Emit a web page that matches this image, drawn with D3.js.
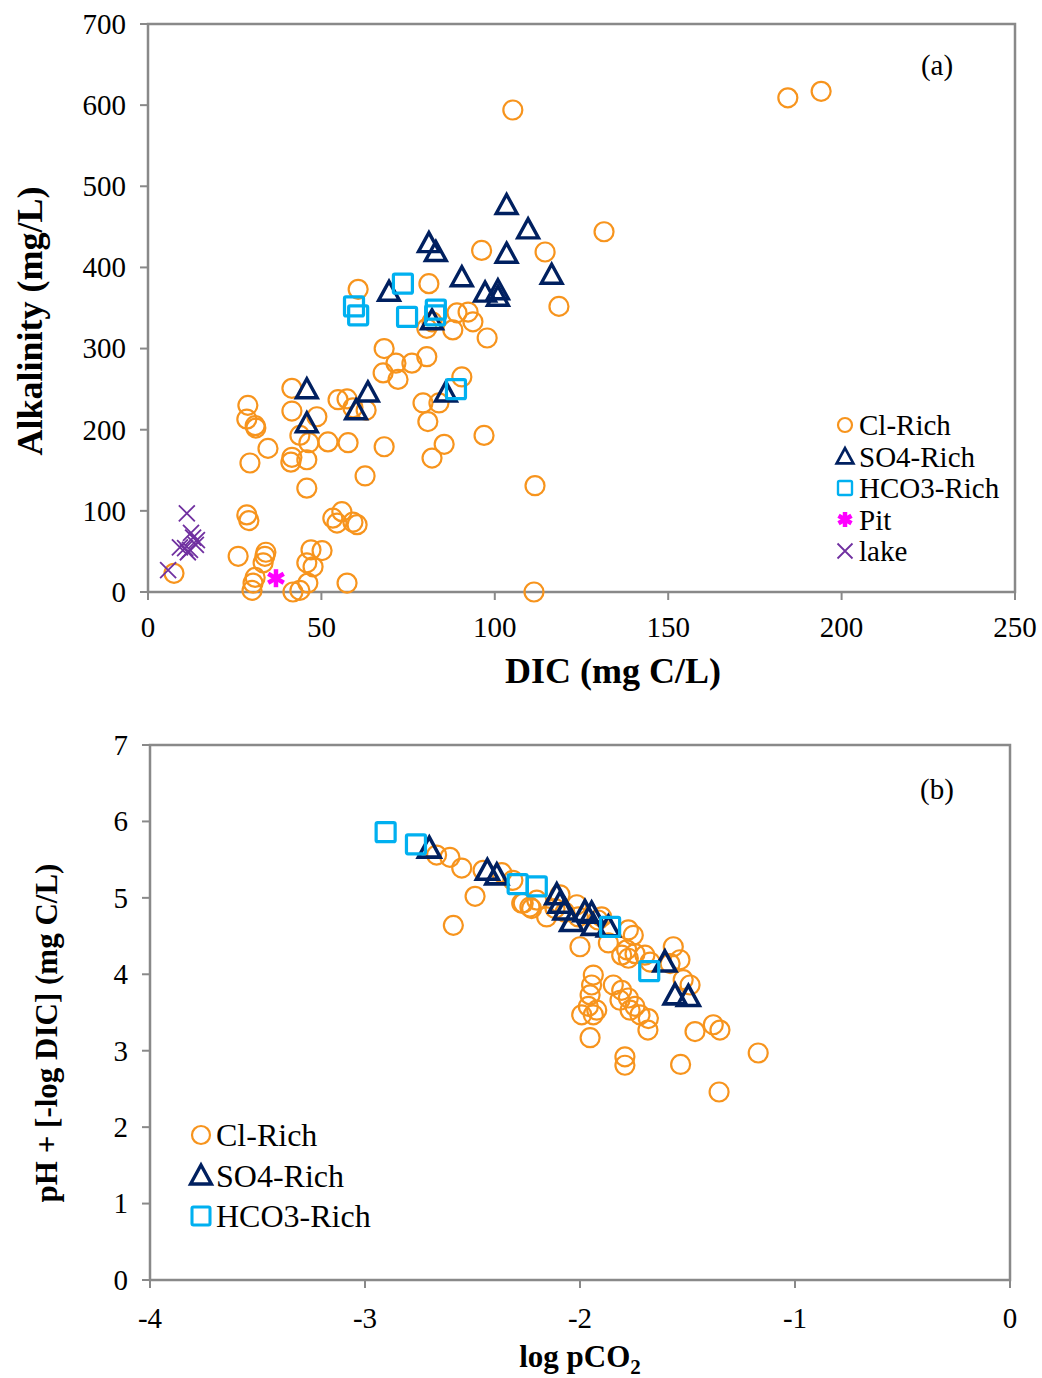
<!DOCTYPE html>
<html>
<head>
<meta charset="utf-8">
<script src="https://cdn.jsdelivr.net/npm/d3@7"></script>
<style>
  body{margin:0;background:#fff;}
</style>
</head>
<body>
<svg id="chart" width="1042" height="1378"></svg>
<script>
// ---- panel (a) data : DIC (mg C/L) vs Alkalinity (mg/L)
var clDicA=[96.2,60.6,81.0,80.4,87.9,89.1,92.3,93.7,97.8,68.1,71.5,76.1,80.4,67.8,72.1,90.5,41.5,41.5,48.7,54.8,57.4,59.1,62.9,79.3,83.9,80.7,28.8,28.5,30.9,31.1,34.6,43.8,46.4,51.9,57.7,68.1,85.4,81.9,29.4,41.5,41.2,45.8,62.6,45.8,28.5,29.1,53.3,55.9,54.5,59.1,60.3,26.0,34.0,33.7,33.2,30.9,30.3,30.0,47.0,50.2,45.8,47.6,46.1,41.8,43.8,57.4,7.5,105.2,184.5,194.1,111.6,111.3,96.9,114.5,131.5,118.5,81.9];
var clAlkA=[421,373,380,325,323,344,345,333,313,300,282,282,290,270,262,265,251,223,216,237,238,227,224,233,233,210,230,213,205,202,177,193,184,185,184,179,182,165,159,166,160,163,143,128,95,88,91,99,85,86,83,44,49,44,36,18,11,2,52,51,36,31,11,0,2,11,23,594,609,617,131,0,193,419,444,352,333];
var so4DicA=[103.4,109.6,103.4,81.0,83.0,90.5,116.4,97.2,100.9,100.9,69.5,81.9,45.8,63.4,60.0,45.8,85.9];
var so4AlkA=[477,447,417,430,419,388,391,369,372,364,370,335,250,246,224,208,246];
var hco3DicA=[73.5,59.4,60.6,74.7,83.0,82.8,88.8];
var hco3AlkA=[380,352,341,339,348,341,250];
var pitDic=[36.9];
var pitAlk=[17];
var lakeDic=[11.2,12.4,13.0,14.1,9.2,10.7,12.1,13.8,11.5,5.8];
var lakeAlk=[97,73,67,64,55,54,52,58,49,27];

// ---- panel (b) data : log pCO2 vs pH + [-log DIC]
var clPco2B=[-2.667,-2.605,-2.550,-2.451,-2.364,-2.312,-2.488,-2.589,-2.271,-2.233,-2.201,-2.264,-2.225,-2.155,-2.116,-2.015,-2.008,-2.000,-1.899,-1.868,-1.783,-1.752,-1.775,-1.806,-1.775,-1.744,-1.698,-1.674,-1.566,-1.581,-1.535,-1.520,-1.488,-1.938,-1.946,-1.953,-1.961,-1.992,-1.922,-1.938,-1.845,-1.806,-1.775,-1.767,-1.744,-1.721,-1.682,-1.684,-1.953,-1.791,-1.791,-1.532,-1.465,-1.380,-1.349,-1.171,-1.353,-1.814,-2.070,-1.916,-2.093];
var clPhB=[5.56,5.53,5.39,5.36,5.33,5.23,5.02,4.64,4.93,4.88,4.97,4.93,4.86,4.75,4.86,4.91,4.75,4.36,4.75,4.41,4.32,4.51,4.58,4.25,4.21,4.27,4.25,4.16,4.36,4.14,4.19,3.93,3.86,3.99,3.86,3.73,3.58,3.47,3.53,3.47,3.86,3.79,3.69,3.53,3.58,3.47,3.42,3.27,3.17,2.92,2.81,2.82,3.25,3.34,3.27,2.97,2.46,3.66,4.81,4.71,5.04];
var so4Pco2B=[-2.701,-2.431,-2.387,-2.108,-2.093,-2.070,-2.039,-1.977,-1.946,-1.938,-1.868,-1.605,-1.558,-1.496];
var so4PhB=[5.65,5.36,5.30,5.04,4.93,4.84,4.69,4.82,4.80,4.64,4.62,4.16,3.73,3.71];
var hco3Pco2B=[-2.904,-2.763,-2.290,-2.201,-1.860,-1.678];
var hco3PhB=[5.86,5.70,5.18,5.15,4.62,4.04];

// ticks
var dicTicks=[0,50,100,150,200,250];
var alkTicks=[0,100,200,300,400,500,600,700];
var pco2Ticks=[-4,-3,-2,-1,0];
var phTicks=[0,1,2,3,4,5,6,7];

var C_ORANGE="#F7941D", C_NAVY="#002060", C_CYAN="#00B0F0", C_PINK="#FF00FF", C_PURPLE="#7030A0", C_AXIS="#898989";
var FONT="Liberation Serif";

var svg=d3.select("#chart");

function zip(xs,ys){
    var out=[];
    for(var i=0;i<xs.length;i++){ out.push([xs[i],ys[i]]); }
    return out;
}

function label(x,y,txt,fs){
    return svg.append("text").attr("x",x).attr("y",y).attr("font-family",FONT)
        .attr("font-size",fs).attr("fill","#000").text(txt);
}

// marker painters: g is a group translated to the point, s = size
function drawCircle(g,s,color){
    g.append("circle").attr("r",s).attr("fill","none").attr("stroke",color).attr("stroke-width",2.2);
}
function drawTriangle(g,s,color){
    var h=s*0.95;
    g.append("path")
        .attr("d","M0,"+(-h*0.55)+"L"+(s*0.52)+","+(h*0.45)+"L"+(-s*0.52)+","+(h*0.45)+"Z")
        .attr("fill","none").attr("stroke",color).attr("stroke-width",s*0.17).attr("stroke-linejoin","miter");
}
function drawSquare(g,s,color){
    g.append("rect").attr("x",-s/2).attr("y",-s/2).attr("width",s).attr("height",s).attr("rx",1.5)
        .attr("fill","none").attr("stroke",color).attr("stroke-width",s*0.17);
}
function drawStar(g,s,color){
    var r=s/2;
    [0,60,120].forEach(function(a){
        g.append("line").attr("x1",0).attr("y1",-r).attr("x2",0).attr("y2",r)
            .attr("transform","rotate("+a+")").attr("stroke",color).attr("stroke-width",4.5);
    });
}
function drawCross(g,s,color){
    var r=s/2;
    g.append("path").attr("d","M"+(-r)+","+(-r)+"L"+r+","+r+"M"+(-r)+","+r+"L"+r+","+(-r))
        .attr("stroke",color).attr("stroke-width",1.8);
}

function plotSeries(layer,pts,x,y,painter,s,color){
    layer.selectAll(null).data(pts).enter().append("g")
        .attr("transform",function(d){return "translate("+x(d[0])+","+y(d[1])+")";})
        .each(function(){ painter(d3.select(this),s,color); });
}

function drawFrame(x,y,xTicks,yTicks,fs,xLabY){
    var x0=x.range()[0], x1=x.range()[1], y0=y.range()[0], y1=y.range()[1];
    var g=svg.append("g");
    g.append("rect").attr("x",x0).attr("y",y1).attr("width",x1-x0).attr("height",y0-y1)
        .attr("fill","none").attr("stroke",C_AXIS).attr("stroke-width",2.5);
    g.selectAll(".yt").data(yTicks).enter().append("line")
        .attr("x1",x0-8).attr("x2",x0).attr("y1",function(d){return y(d);}).attr("y2",function(d){return y(d);})
        .attr("stroke",C_AXIS).attr("stroke-width",2);
    g.selectAll(".xt").data(xTicks).enter().append("line")
        .attr("y1",y0).attr("y2",y0+8).attr("x1",function(d){return x(d);}).attr("x2",function(d){return x(d);})
        .attr("stroke",C_AXIS).attr("stroke-width",2);
    yTicks.forEach(function(d){
        label(x0-22,y(d),d,fs).attr("dy","0.34em").attr("text-anchor","end");
    });
    xTicks.forEach(function(d){
        label(x(d),y0+xLabY,d,fs).attr("text-anchor","middle");
    });
}

function drawLegend(x0,y0,gap,items,fs){
    var g=svg.append("g");
    items.forEach(function(it,i){
        var m=g.append("g").attr("transform","translate("+x0+","+(y0+i*gap)+")");
        it.painter(m,it.s,it.color);
        label(x0+it.dx,y0+i*gap,it.label,fs).attr("dy","0.35em");
    });
}

// ================= panel (a)
var xA=d3.scaleLinear().domain([0,250]).range([148,1015]);
var yA=d3.scaleLinear().domain([0,700]).range([592,24]);
drawFrame(xA,yA,dicTicks,alkTicks,29,45);
var layerA=svg.append("g");
plotSeries(layerA,zip(clDicA,clAlkA),xA,yA,drawCircle,9.5,C_ORANGE);
plotSeries(layerA,zip(so4DicA,so4AlkA),xA,yA,drawTriangle,20,C_NAVY);
plotSeries(layerA,zip(hco3DicA,hco3AlkA),xA,yA,drawSquare,19,C_CYAN);
plotSeries(layerA,zip(pitDic,pitAlk),xA,yA,drawStar,18,C_PINK);
plotSeries(layerA,zip(lakeDic,lakeAlk),xA,yA,drawCross,16,C_PURPLE);

label(613,683,"DIC (mg C/L)",36).attr("text-anchor","middle").attr("font-weight","bold");
label(0,0,"Alkalinity (mg/L)",36).attr("transform","translate(42,321) rotate(-90)")
    .attr("text-anchor","middle").attr("font-weight","bold");
label(937,65,"(a)",29).attr("dy","0.35em").attr("text-anchor","middle");

drawLegend(845,425,31.5,[
    {label:"Cl-Rich",painter:drawCircle,s:7,color:C_ORANGE,dx:14},
    {label:"SO4-Rich",painter:drawTriangle,s:16,color:C_NAVY,dx:14},
    {label:"HCO3-Rich",painter:drawSquare,s:14,color:C_CYAN,dx:14},
    {label:"Pit",painter:drawStar,s:15,color:C_PINK,dx:14},
    {label:"lake",painter:drawCross,s:15,color:C_PURPLE,dx:14}
],29);

// ================= panel (b)
var xB=d3.scaleLinear().domain([-4,0]).range([150,1010]);
var yB=d3.scaleLinear().domain([0,7]).range([1280,745]);
drawFrame(xB,yB,pco2Ticks,phTicks,29,48);
var layerB=svg.append("g");
plotSeries(layerB,zip(clPco2B,clPhB),xB,yB,drawCircle,9.5,C_ORANGE);
plotSeries(layerB,zip(so4Pco2B,so4PhB),xB,yB,drawTriangle,21,C_NAVY);
plotSeries(layerB,zip(hco3Pco2B,hco3PhB),xB,yB,drawSquare,19,C_CYAN);

var xt=label(580,1367,"",31).attr("text-anchor","middle").attr("font-weight","bold");
xt.append("tspan").text("log pCO");
xt.append("tspan").attr("font-size",21).attr("dy",7).text("2");
label(0,0,"pH + [-log DIC] (mg C/L)",31).attr("transform","translate(57,1033) rotate(-90)")
    .attr("text-anchor","middle").attr("font-weight","bold");
label(937,789,"(b)",29).attr("dy","0.35em").attr("text-anchor","middle");

drawLegend(201,1135,40.5,[
    {label:"Cl-Rich",painter:drawCircle,s:9,color:C_ORANGE,dx:15},
    {label:"SO4-Rich",painter:drawTriangle,s:20,color:C_NAVY,dx:15},
    {label:"HCO3-Rich",painter:drawSquare,s:18,color:C_CYAN,dx:15}
],32);
</script>
</body>
</html>
